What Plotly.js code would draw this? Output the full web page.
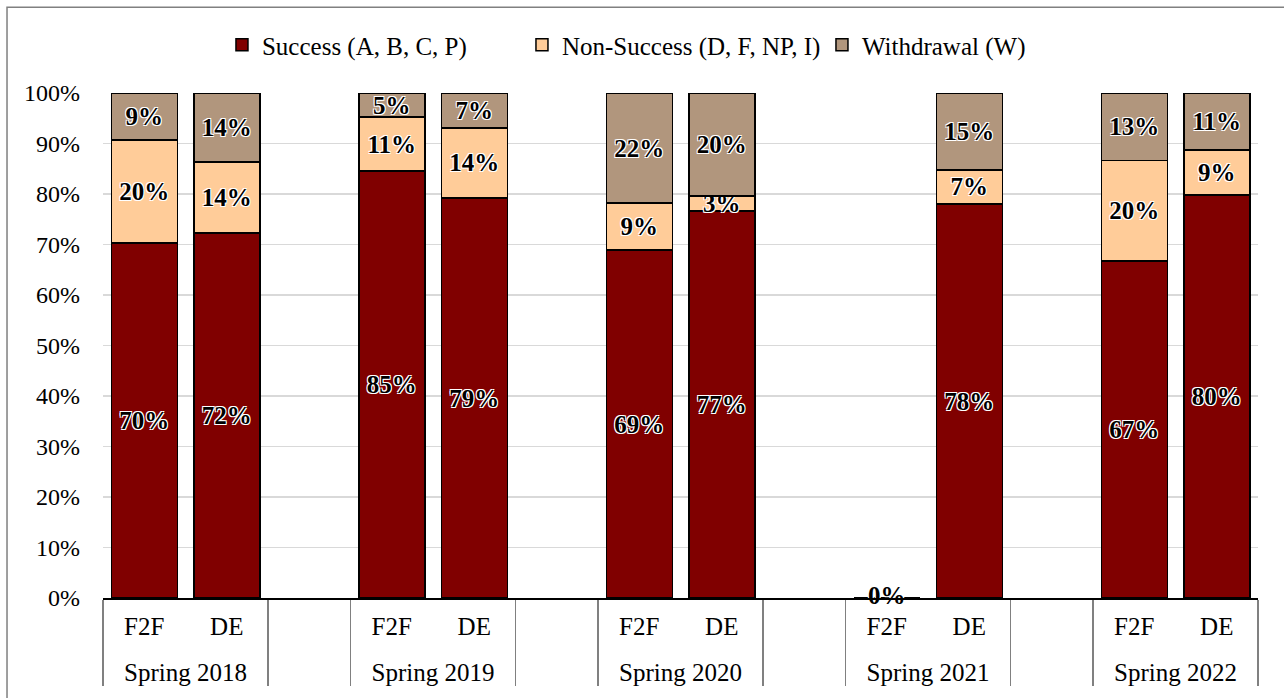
<!DOCTYPE html>
<html>
<head>
<meta charset="utf-8">
<script src="https://cdn.plot.ly/plotly-3.0.1.min.js"></script>
<style>html,body{margin:0;padding:0;background:#fff;}#chart{width:1284px;height:698px;}</style>
</head>
<body>
<div id="chart"></div>
<script>
// ---- data ----
const terms = ['Spring 2018', 'Spring 2019', 'Spring 2020', 'Spring 2021', 'Spring 2022'];
const modes = ['F2F', 'DE'];
// values per term, ordered F2F, DE (percent)
const success    = [70.3, 72.3, 84.6, 79.2, 68.9, 76.6, 0, 78.0, 66.7, 79.8];
const nonSuccess = [20.4, 14.0, 10.6, 13.9,  9.3,  3.0, 0,  6.8, 19.9,  8.9];
const withdrawal = [ 9.3, 13.7,  4.8,  6.9, 21.8, 20.4, 0, 15.2, 13.4, 11.3];
const seriesNames = ['Success (A, B, C, P)', 'Non-Success (D, F, NP, I)', 'Withdrawal (W)'];
const yTickVals = [0, 10, 20, 30, 40, 50, 60, 70, 80, 90, 100];

// ---- build multicategory x with blank spacer slots between terms ----
const spacerSub = '<span style="font-size:44px">&nbsp;</span>';
const xTop = [], xSub = [], idx = [];
terms.forEach((t, ti) => {
  modes.forEach((m, mi) => { xTop.push(t); xSub.push(m); idx.push(ti * modes.length + mi); });
  if (ti < terms.length - 1) { xTop.push(' '.repeat(ti + 1)); xSub.push(spacerSub); idx.push(null); }
});
const pick = arr => idx.map(i => i === null ? null : arr[i]);
const label = arr => idx.map(i => (i === null || !arr[i]) ? '' : Math.round(arr[i]) + '%');

const font = 'Liberation Serif, Times New Roman, serif';
const txtFont = {family: font, size: 25, color: '#000', weight: 'bold',
  shadow: '1px 1px 0 #fff, -1px -1px 0 #fff, 1px -1px 0 #fff, -1px 1px 0 #fff'};
const colors = ['#800000', '#FFCC99', '#B1967D'];
const traces = [success, nonSuccess, withdrawal].map((arr, k) => ({
  type: 'bar', name: seriesNames[k], x: [xTop, xSub], y: pick(arr),
  text: label(arr), textposition: 'inside', insidetextanchor: 'middle',
  constraintext: 'none', textfont: txtFont, textangle: 0,
  marker: {color: colors[k], line: {color: '#000', width: 1.5}},
  hoverinfo: 'skip'
}));
// label for empty (0%) bars
const zx0 = [], zx1 = [], zy = [], zt = [];
idx.forEach((i, p) => {
  if (i !== null && success[i] + nonSuccess[i] + withdrawal[i] === 0) {
    zx0.push(xTop[p]); zx1.push(xSub[p]); zy.push(0); zt.push('0%');
  }
});
traces.push({type: 'scatter', mode: 'text', x: [zx0, zx1], y: zy, text: zt,
  textposition: 'middle center', textfont: txtFont, showlegend: false, cliponaxis: false, hoverinfo: 'skip'});

const layout = {
  width: 1284, height: 698,
  margin: {l: 103, r: 26, t: 93, b: 100},
  paper_bgcolor: '#fff', plot_bgcolor: '#fff',
  barmode: 'stack', bargap: 0.2,
  font: {family: font, size: 24, color: '#000'},
  showlegend: true,
  legend: {orientation: 'h', x: 0.103, xanchor: 'left', y: 1.095, yanchor: 'middle',
    font: {family: font, size: 25, color: '#000'}, traceorder: 'normal', itemwidth: 30,
    entrywidth: 255, entrywidthmode: 'pixels'},
  xaxis: {type: 'multicategory', showline: true, linecolor: '#000', linewidth: 1.5,
    showgrid: false, zeroline: false, ticks: '', showdividers: true,
    dividercolor: '#808080', dividerwidth: 1.5, ticklabelstandoff: 5,
    tickfont: {family: font, size: 25, color: '#000'}},
  yaxis: {range: [0, 100.001], tickvals: yTickVals, ticktext: yTickVals.map(v => v + '%'),
    showgrid: true, gridcolor: '#D9D9D9', gridwidth: 1.5, zeroline: false, showline: false,
    ticks: '', ticklabelstandoff: 22, tickfont: {family: font, size: 24, color: '#000'}},
  shapes: [{type: 'rect', xref: 'paper', yref: 'paper', x0: -0.0831, x1: 1.2, y0: -0.4, y1: 1.170,
    line: {color: '#808080', width: 1.5}, fillcolor: 'rgba(0,0,0,0)', layer: 'below'}]
};
Plotly.newPlot('chart', traces, layout, {displayModeBar: false, staticPlot: true});
</script>
</body>
</html>
